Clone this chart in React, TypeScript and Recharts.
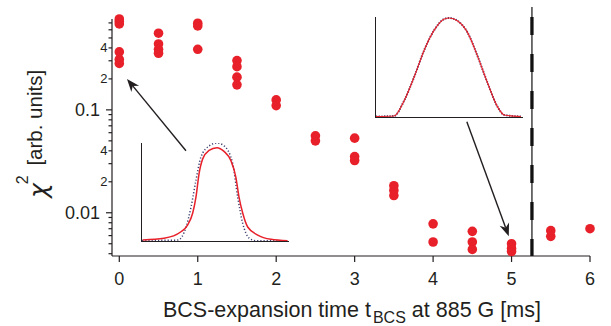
import React from "react";
import {
  ScatterChart,
  Scatter,
  XAxis,
  YAxis,
  ReferenceLine,
  LineChart,
  Line,
} from "recharts";

// expansion times (ms) and the chi^2 values measured at each of them
const expansionTimes = [0, 0.5, 1, 1.5, 2, 2.5, 3, 3.5, 4, 4.5, 5, 5.5, 6];
const chi2Runs = [
  [0.764, 0.723, 0.684, 0.366, 0.309, 0.283],
  [0.556, 0.437, 0.388, 0.355],
  [0.695, 0.654, 0.388],
  [0.301, 0.263, 0.208, 0.175],
  [0.125, 0.11],
  [0.056, 0.05],
  [0.0531, 0.0352, 0.0322],
  [0.0183, 0.0165, 0.0147],
  [0.0078, 0.0052],
  [0.0066, 0.0052, 0.0044],
  [0.005, 0.0045, 0.0042],
  [0.0067, 0.0059],
  [0.007],
];

const xTicks = [0, 1, 2, 3, 4, 5, 6];
const yTicks = [
  0.004, 0.005, 0.006, 0.007, 0.008, 0.009, 0.01, 0.02, 0.03, 0.04, 0.05,
  0.06, 0.07, 0.08, 0.09, 0.1, 0.2, 0.3, 0.4, 0.5, 0.6, 0.7,
];
const yTickLabels: Record<string, string> = {
  "0.01": "0.01",
  "0.02": "2",
  "0.04": "4",
  "0.1": "0.1",
  "0.2": "2",
  "0.4": "4",
};

// crossover time (dashed line)
const crossoverTime = 5.26;

// inset profiles (position in % of inset width, normalized density)
const earlyFitPos = [0.5, 15, 26.5, 31, 34.5, 36.7, 38.8, 41.3, 45.6, 51, 55.8, 60.5, 63.9, 66, 68.5, 71.9, 78.7, 87.8, 99];
const earlyFitVal = [0.011, 0.029, 0.099, 0.17, 0.3, 0.47, 0.72, 0.88, 0.97, 1.0, 0.96, 0.86, 0.68, 0.47, 0.3, 0.15, 0.064, 0.018, 0.003];
const earlyDataPos = [0, 24.3, 30, 33.3, 36.7, 40.1, 45.8, 51, 55.8, 61.7, 65.1, 68.5, 73, 77.6, 100];
const earlyDataVal = [0.005, 0.01, 0.15, 0.36, 0.65, 0.9, 1.02, 1.05, 1.02, 0.83, 0.47, 0.19, 0.03, 0.003, 0.003];
const latePos = [0, 12.2, 19.3, 26.1, 32.9, 39.7, 46.5, 49.9, 55.6, 62.4, 69.2, 76, 82.8, 87.3, 98.6];
const lateVal = [0.005, 0.01, 0.17, 0.41, 0.68, 0.88, 0.99, 1.0, 0.97, 0.85, 0.61, 0.34, 0.1, 0.02, 0.005];

const RED = "#e8202a";
const INK = "#231f20";

const points = expansionTimes.flatMap((t, i) =>
  chi2Runs[i].map((chi2) => ({ t, chi2 }))
);
const toRows = (pos: number[], val: number[]) =>
  pos.map((u, i) => ({ u, v: val[i] }));

const YTick = (props: any) => {
  const { x, y, payload } = props;
  const label = yTickLabels[String(payload.value)];
  const major = payload.value === 0.01 || payload.value === 0.1;
  return (
    <g>
      <line x1={x - (major ? 6 : 3.5)} x2={x} y1={y} y2={y} stroke={INK} strokeWidth={1.2} />
      {label && (
        <text
          x={major ? x - 12 : x - 4.5}
          y={y}
          dy="0.35em"
          textAnchor="end"
          fontSize={major ? 18 : 13}
          fill={INK}
        >
          {label}
        </text>
      )}
    </g>
  );
};

const Arrow = (props: any) => {
  const { x1, y1, x2, y2 } = props;
  const len = Math.hypot(x2 - x1, y2 - y1);
  const ux = (x2 - x1) / len;
  const uy = (y2 - y1) / len;
  const hl = 13;
  const hw = 5;
  const bx = x2 - ux * hl;
  const by = y2 - uy * hl;
  const nx = x2 - ux * hl * 0.7;
  const ny = y2 - uy * hl * 0.7;
  return (
    <g>
      <line x1={x1} y1={y1} x2={nx} y2={ny} stroke={INK} strokeWidth={1.4} />
      <polygon
        points={`${x2},${y2} ${bx - uy * hw},${by + ux * hw} ${nx},${ny} ${bx + uy * hw},${by - ux * hw}`}
        fill={INK}
      />
    </g>
  );
};

const Dot = (props: any) => <circle cx={props.cx} cy={props.cy} r={4.8} fill={RED} />;

const XTitle = () => (
  <text x={163} y={317} fontSize={21.5} fill={INK}>
    BCS-expansion time t
    <tspan dx={2} dy={6} fontSize={16}>BCS</tspan>
    <tspan dy={-6} fontSize={21.5}> at 885 G [ms]</tspan>
  </text>
);

const YTitle = () => (
  <text transform="translate(47,198) rotate(-90)" fill={INK}>
    <tspan fontSize={25} fontFamily="'DejaVu Sans', sans-serif" fontStyle="oblique">χ</tspan>
    <tspan dx={-1} dy={-19} fontSize={16}>2</tspan>
    <tspan dx={4} dy={14} fontSize={20.5}> [arb. units]</tspan>
  </text>
);

function Inset({
  left,
  top,
  width,
  height,
  yMax,
  children,
}: {
  left: number;
  top: number;
  width: number;
  height: number;
  yMax: number;
  children: React.ReactNode;
}) {
  return (
    <div
      style={{
        position: "absolute",
        left,
        top,
        width,
        height,
        borderLeft: `1.3px solid ${INK}`,
        borderBottom: `1.3px solid ${INK}`,
      }}
    >
      <LineChart width={width} height={height} margin={{ top: 0, right: 0, bottom: 0, left: 0 }}>
        <XAxis type="number" dataKey="u" domain={[0, 100]} hide />
        <YAxis type="number" dataKey="v" domain={[0, yMax]} hide />
        {children}
      </LineChart>
    </div>
  );
}

export default function App() {
  return (
    <div
      style={{
        position: "absolute",
        left: 0,
        top: 0,
        width: 611,
        height: 326,
        background: "#fff",
        fontFamily: "'Liberation Sans', Arial, Helvetica, sans-serif",
      }}
    >
      <ScatterChart width={611} height={326} margin={{ top: 19, right: 21, bottom: 0, left: 0 }}>
        <XAxis
          type="number"
          dataKey="t"
          domain={[-0.093, 6]}
          ticks={xTicks}
          interval={0}
          height={70}
          tickSize={6}
          tickMargin={10}
          tick={{ fontSize: 18, fill: INK }}
          stroke={INK}
          strokeWidth={1.2}
          label={{ content: XTitle }}
        />
        <YAxis
          type="number"
          dataKey="chi2"
          scale="log"
          domain={[0.0038, 0.764]}
          ticks={yTicks}
          interval={0}
          width={112}
          tickSize={0}
          tickMargin={0}
          tick={YTick}
          stroke={INK}
          strokeWidth={1.2}
          label={{ content: YTitle }}
        />
        <ReferenceLine
          segment={[
            { x: crossoverTime, y: 1.0 },
            { x: crossoverTime, y: 0.0038 },
          ]}
          stroke="#111"
          strokeWidth={1.2}
          ifOverflow="visible"
        />
        <ReferenceLine
          segment={[
            { x: crossoverTime, y: 0.8 },
            { x: crossoverTime, y: 0.0038 },
          ]}
          stroke="#111"
          strokeWidth={3.3}
          strokeDasharray="18 19"
          ifOverflow="visible"
        />
        <ReferenceLine
          segment={[
            { x: 0.85, y: 0.04 },
            { x: 0.098, y: 0.2 },
          ]}
          shape={Arrow}
          ifOverflow="visible"
        />
        <ReferenceLine
          segment={[
            { x: 4.43, y: 0.0765 },
            { x: 4.965, y: 0.0059 },
          ]}
          shape={Arrow}
          ifOverflow="visible"
        />
        <Scatter data={points} shape={Dot} isAnimationActive={false} />
      </ScatterChart>

      <Inset left={141} top={143} width={147} height={98} yMax={1.05}>
        <Line
          data={toRows(earlyDataPos, earlyDataVal)}
          dataKey="v"
          type="monotone"
          stroke="#3b3f6e"
          strokeWidth={1.5}
          strokeDasharray="1.2 2"
          dot={false}
          isAnimationActive={false}
        />
        <Line
          data={toRows(earlyFitPos, earlyFitVal)}
          dataKey="v"
          type="monotone"
          stroke={RED}
          strokeWidth={1.5}
          dot={false}
          isAnimationActive={false}
        />
      </Inset>

      <Inset left={375} top={17} width={147} height={100} yMax={1.01}>
        <Line
          data={toRows(latePos, lateVal)}
          dataKey="v"
          type="monotone"
          stroke="#3b3f6e"
          strokeWidth={2}
          strokeDasharray="1.2 1.5"
          dot={false}
          isAnimationActive={false}
        />
        <Line
          data={toRows(latePos, lateVal)}
          dataKey="v"
          type="monotone"
          stroke={RED}
          strokeWidth={1.2}
          dot={false}
          isAnimationActive={false}
        />
      </Inset>
    </div>
  );
}
